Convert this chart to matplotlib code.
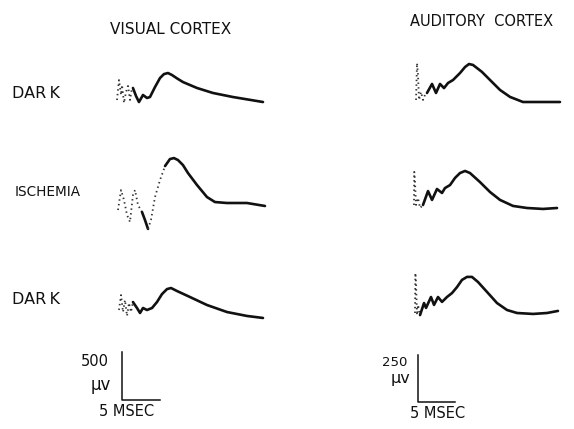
import numpy as np
import matplotlib.pyplot as plt

# evoked potentials, time in msec from stimulus, amplitude in microvolts
vis_dark1_t = [0, 0.26, 0.53, 0.66, 0.92, 1.18, 1.45, 1.71, 1.97, 2.1, 2.5, 2.89, 3.42, 3.95, 4.34,
               5.0, 5.66, 6.18, 6.71, 7.24, 7.9, 8.68, 10.53, 12.63, 15.26, 19.21]
vis_dark1_v = [0, 208, 52, 156, -31, 83, 146, 0, 125, 125, 42, -21, 52, 21, 31,
               135, 229, 270, 281, 260, 225, 187, 125, 73, 31, -21]

vis_isch_t = [0.13, 0.53, 0.92, 1.32, 1.71, 2.1, 2.37, 2.76, 3.29, 3.68, 4.08, 4.47, 5.0, 5.66, 6.32,
              6.97, 7.5, 8.03, 8.68, 9.34, 10.53, 11.84, 12.89, 14.47, 17.1, 19.47]
vis_isch_v = [-73, 135, 31, -125, -198, 83, 135, -21, -94, -177, -270, -177, 62, 239, 385,
              458, 468, 447, 395, 312, 187, 62, 10, 0, 0, -31]

vis_dark2_t = [0.26, 0.53, 0.79, 1.05, 1.32, 1.58, 1.84, 2.1, 2.63, 3.03, 3.42, 3.95, 4.61, 5.26,
               5.92, 6.58, 7.11, 7.89, 9.61, 11.84, 14.47, 17.1, 19.21]
vis_dark2_v = [52, 208, 31, 156, -10, 125, 31, 135, 73, 21, 73, 52, 73, 135,
               218, 270, 281, 250, 187, 104, 31, -10, -31]

aud_dark1_t = [0.14, 0.27, 0.41, 0.54, 0.81, 1.08, 1.35, 1.62, 2.3, 2.84, 3.38, 3.92, 4.46, 5.14,
               6.08, 6.76, 7.3, 7.84, 9.05, 10.14, 11.49, 12.84, 14.59, 16.89, 19.59]
aud_dark1_v = [11, 207, 144, 11, 53, 11, 37, 48, 96, 48, 96, 74, 101, 117,
               154, 186, 202, 197, 160, 117, 64, 27, 0, 0, 0]

aud_isch_t = [-0.14, -0.1, 0, 0.14, 0.41, 0.68, 1.08, 1.76, 2.3, 2.97, 3.65, 4.05, 4.73, 5.41,
              6.08, 6.76, 7.43, 8.78, 10.14, 11.49, 13.24, 15.14, 17.3, 19.19]
aud_isch_v = [16, 192, 138, 16, 53, 0, 16, 90, 43, 101, 80, 106, 122, 160,
              186, 197, 186, 138, 85, 43, 11, 0, -5, 0]

aud_dark2_t = [0, 0.05, 0.14, 0.27, 0.41, 0.68, 1.22, 1.49, 2.16, 2.57, 3.11, 3.65, 4.32, 5.0,
               5.68, 6.35, 7.03, 7.7, 8.51, 9.73, 11.08, 12.43, 13.78, 15.95, 17.84, 19.32]
aud_dark2_v = [0, 213, 160, -11, 43, -11, 53, 27, 85, 43, 85, 59, 85, 106,
               138, 176, 192, 192, 165, 112, 53, 16, 0, -5, 0, 11]

# parts of the sweep too fast to register on film (drawn faint)
vis_dark1_faint = [(0, 2.1)]
vis_isch_faint = [(0, 3.29), (4.08, 6.32)]
vis_dark2_faint = [(0, 2.1)]
aud_dark1_faint = [(-1, 1.62)]
aud_isch_faint = [(-1, 1.08)]
aud_dark2_faint = [(-1, 0.68)]

row_labels = ['DARK', 'ISCHEMIA', 'DARK']
col_titles = ['VISUAL CORTEX', 'AUDITORY  CORTEX']
scale_uv = [500, 250]
scale_ms = 5

W, H = 574, 429
fig = plt.figure(figsize=(W / 100, H / 100), dpi=100)
ink = '#111111'


def px(x, y):
    return x / W, 1 - y / H


def trace_axes(left, base, t0, px_ms, px_uv):
    w, up, down = 185, 90, 45
    ax = fig.add_axes([left / W, (H - base - down) / H, w / W, (up + down) / H])
    ax.set_xlim((left - t0) / px_ms, (left + w - t0) / px_ms)
    ax.set_ylim(-down / px_uv, up / px_uv)
    ax.axis('off')
    return ax


def draw_trace(ax, t, v, faint):
    t = np.asarray(t, float)
    v = np.asarray(v, float)
    mid = (t[:-1] + t[1:]) / 2
    is_faint = np.array([any(a <= m <= b for a, b in faint) for m in mid])
    start = 0
    for i in range(1, len(mid) + 1):
        if i == len(mid) or is_faint[i] != is_faint[start]:
            seg = slice(start, i + 1)
            if is_faint[start]:
                ax.plot(t[seg], v[seg], color='#333333', lw=1.3, ls=(0, (0.8, 1.8)))
            else:
                ax.plot(t[seg], v[seg], color=ink, lw=1.9,
                        solid_capstyle='round', solid_joinstyle='round')
            start = i


# visual cortex: 7.6 px per msec, 500 uV per 48 px
vis_px_ms, vis_px_uv = 7.6, 48 / 500
aud_px_ms, aud_px_uv = 7.4, 47 / 250

vis = [(vis_dark1_t, vis_dark1_v, vis_dark1_faint, 100),
       (vis_isch_t, vis_isch_v, vis_isch_faint, 203),
       (vis_dark2_t, vis_dark2_v, vis_dark2_faint, 315)]
aud = [(aud_dark1_t, aud_dark1_v, aud_dark1_faint, 102),
       (aud_isch_t, aud_isch_v, aud_isch_faint, 208),
       (aud_dark2_t, aud_dark2_v, aud_dark2_faint, 313)]

for t, v, faint, base in vis:
    ax = trace_axes(100, base, 117, vis_px_ms, vis_px_uv)
    draw_trace(ax, t, v, faint)
for t, v, faint, base in aud:
    ax = trace_axes(400, base, 415, aud_px_ms, aud_px_uv)
    draw_trace(ax, t, v, faint)

# calibration bars
for (cx, cy, px_ms, px_uv, uv) in [(122, 400, vis_px_ms, vis_px_uv, scale_uv[0]),
                                   (418, 402, aud_px_ms, aud_px_uv, scale_uv[1])]:
    ax = fig.add_axes([(cx - 5) / W, (H - cy - 5) / H, 60 / W, 65 / H])
    ax.set_xlim(-5 / px_ms, 55 / px_ms)
    ax.set_ylim(-5 / px_uv, 60 / px_uv)
    ax.plot([0, 0, scale_ms], [uv, 0, 0], color=ink, lw=1.1)
    ax.axis('off')

# text
fig.text(*px(171, 30), col_titles[0], ha='center', va='center', fontsize=11, color=ink)
fig.text(*px(482, 22), col_titles[1], ha='center', va='center', fontsize=10.5, color=ink)
for lab, y, x, fs in zip(row_labels, [94, 192, 300], [12, 15, 12], [11.5, 9.8, 11.5]):
    spaced = lab if len(lab) > 4 else lab[:3] + '\u2009' + lab[3:]
    fig.text(*px(x, y), spaced, ha='left', va='center', fontsize=fs, color=ink)

fig.text(*px(95, 362), str(scale_uv[0]), ha='center', va='center', fontsize=10.5, color=ink)
fig.text(*px(101, 385), 'μv', ha='center', va='center', fontsize=12, color=ink)
fig.text(*px(127, 412), f'{scale_ms} MSEC', ha='center', va='center', fontsize=10.5, color=ink)
fig.text(*px(395, 363), str(scale_uv[1]), ha='center', va='center', fontsize=9.5, color=ink)
fig.text(*px(400, 378), 'μv', ha='center', va='center', fontsize=11.5, color=ink)
fig.text(*px(438, 413), f'{scale_ms} MSEC', ha='center', va='center', fontsize=10.5, color=ink)

fig.savefig('out.png', dpi=100, facecolor='white')
